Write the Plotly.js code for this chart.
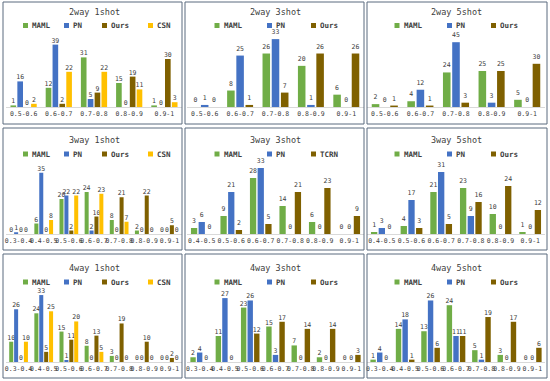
<!DOCTYPE html>
<html>
<head>
<meta charset="utf-8">
<script src="https://cdn.plot.ly/plotly-3.0.1.min.js"></script>
<style>html,body{margin:0;padding:0;background:#fff}#chart{width:550px;height:381px}</style>
</head>
<body>
<div id="chart"></div>
<script>
// ---- Categories ----
const cats5 = ['0.5-0.6', '0.6-0.7', '0.7-0.8', '0.8-0.9', '0.9-1'];
const cats6 = ['0.4-0.5', '0.5-0.6', '0.6-0.7', '0.7-0.8', '0.8-0.9', '0.9-1'];
const cats7 = ['0.3-0.4', '0.4-0.5', '0.5-0.6', '0.6-0.7', '0.7-0.8', '0.8-0.9', '0.9-1'];

// ---- 2way 1shot ----
const w2s1_MAML = [1, 12, 31, 15, 1];
const w2s1_PN   = [16, 39, 5, 0, 0];
const w2s1_Ours = [0, 2, 9, 19, 30];
const w2s1_CSN  = [2, 22, 22, 11, 3];
// ---- 2way 3shot ----
const w2s3_MAML = [0, 8, 26, 20, 6];
const w2s3_PN   = [1, 25, 33, 1, 0];
const w2s3_Ours = [0, 1, 7, 26, 26];
// ---- 2way 5shot ----
const w2s5_MAML = [2, 4, 24, 25, 5];
const w2s5_PN   = [0, 12, 45, 3, 0];
const w2s5_Ours = [1, 1, 3, 25, 30];
// ---- 3way 1shot ----
const w3s1_MAML = [0, 6, 20, 24, 8, 2, 0];
const w3s1_PN   = [1, 35, 22, 2, 0, 0, 0];
const w3s1_Ours = [0, 0, 2, 10, 21, 22, 5];
const w3s1_CSN  = [0, 8, 22, 23, 7, 0, 0];
// ---- 3way 3shot ----
const w3s3_MAML = [3, 9, 28, 14, 6, 0];
const w3s3_PN   = [6, 21, 33, 0, 0, 0];
const w3s3_TCRN = [0, 2, 5, 21, 23, 9];
// ---- 3way 5shot ----
const w3s5_MAML = [1, 4, 21, 23, 10, 1];
const w3s5_PN   = [3, 17, 31, 9, 0, 0];
const w3s5_Ours = [0, 3, 5, 16, 24, 12];
// ---- 4way 1shot ----
const w4s1_MAML = [10, 24, 15, 8, 3, 0, 0];
const w4s1_PN   = [26, 33, 1, 0, 0, 0, 0];
const w4s1_Ours = [0, 5, 11, 13, 19, 10, 2];
const w4s1_CSN  = [10, 25, 20, 5, 0, 0, 0];
// ---- 4way 3shot ----
const w4s3_MAML = [2, 11, 23, 15, 7, 2, 0];
const w4s3_PN   = [4, 27, 26, 3, 0, 0, 0];
const w4s3_Ours = [0, 0, 12, 17, 14, 14, 3];
// ---- 4way 5shot ----
const w4s5_MAML = [1, 14, 13, 24, 5, 3, 0];
const w4s5_PN   = [4, 18, 26, 11, 1, 0, 0];
const w4s5_Ours = [0, 1, 6, 11, 19, 17, 6];

const titles = ['2way 1shot', '2way 3shot', '2way 5shot',
                '3way 1shot', '3way 3shot', '3way 5shot',
                '4way 1shot', '4way 3shot', '4way 5shot'];

const COL = {MAML: '#70AD47', PN: '#4472C4', Ours: '#7F6000', CSN: '#FFC000', TCRN: '#7F6000'};

const panels = [
  {cats: cats5, ymax: 45, series: [['MAML', w2s1_MAML], ['PN', w2s1_PN], ['Ours', w2s1_Ours], ['CSN', w2s1_CSN]]},
  {cats: cats5, ymax: 35, series: [['MAML', w2s3_MAML], ['PN', w2s3_PN], ['Ours', w2s3_Ours]]},
  {cats: cats5, ymax: 50, series: [['MAML', w2s5_MAML], ['PN', w2s5_PN], ['Ours', w2s5_Ours]]},
  {cats: cats7, ymax: 40, series: [['MAML', w3s1_MAML], ['PN', w3s1_PN], ['Ours', w3s1_Ours], ['CSN', w3s1_CSN]]},
  {cats: cats6, ymax: 35, series: [['MAML', w3s3_MAML], ['PN', w3s3_PN], ['TCRN', w3s3_TCRN]]},
  {cats: cats6, ymax: 35, series: [['MAML', w3s5_MAML], ['PN', w3s5_PN], ['Ours', w3s5_Ours]]},
  {cats: cats7, ymax: 35, series: [['MAML', w4s1_MAML], ['PN', w4s1_PN], ['Ours', w4s1_Ours], ['CSN', w4s1_CSN]]},
  {cats: cats7, ymax: 30, series: [['MAML', w4s3_MAML], ['PN', w4s3_PN], ['Ours', w4s3_Ours]]},
  {cats: cats7, ymax: 30, series: [['MAML', w4s5_MAML], ['PN', w4s5_PN], ['Ours', w4s5_Ours]]}
];

// ---- Layout geometry (pixels) ----
const W = 550, H = 381;
const px = v => v / W;
const py = v => 1 - v / H;
const plotX = [[6, 182], [187, 364], [367, 545]];
const plotY = [[35, 107], [164, 234], [291, 362]];
const boxX = [[3, 182], [185, 364], [367, 547]];
const boxY = [[2, 124], [128, 250], [254, 378]];
const titleY = [11.7, 140, 268];
const legY = [25.5, 154, 282];
const legOff4 = [17, 58, 96, 142];
const legOff3 = [27.5, 80, 124];

const data = [];
const layout = {
  width: W, height: H,
  margin: {l: 0, r: 0, t: 0, b: 0},
  paper_bgcolor: '#ffffff', plot_bgcolor: 'rgba(0,0,0,0)',
  barmode: 'group', bargap: 0.22, bargroupgap: 0.18,
  showlegend: false,
  shapes: [], annotations: []
};

panels.forEach((p, i) => {
  const r = Math.floor(i / 3), c = i % 3;
  const k = i === 0 ? '' : String(i + 1);
  const xa = 'xaxis' + k, ya = 'yaxis' + k;
  layout[xa] = {
    domain: [px(plotX[c][0]), px(plotX[c][1])],
    anchor: 'y' + k, type: 'category',
    showline: true, linecolor: '#d9d9d9', linewidth: 1,
    ticks: '', showgrid: false, zeroline: false, tickangle: 0, fixedrange: true,
    tickfont: {family: 'DejaVu Sans Mono', size: 6.5, color: '#404040'}
  };
  layout[ya] = {
    domain: [py(plotY[r][1]), py(plotY[r][0])],
    anchor: 'x' + k, range: [0, p.ymax], visible: false, fixedrange: true
  };
  p.series.forEach(([name, vals]) => {
    data.push({
      type: 'bar', name: name, x: p.cats, y: vals,
      xaxis: 'x' + k, yaxis: 'y' + k,
      marker: {color: COL[name]},
      text: vals.map(String), textposition: 'outside', cliponaxis: false,
      constraintext: 'none',
      textfont: {family: 'DejaVu Sans Mono', size: 6.5, color: '#404040'},
      hoverinfo: 'skip'
    });
  });
  // panel border
  layout.shapes.push({type: 'rect', xref: 'paper', yref: 'paper',
    x0: px(boxX[c][0]), x1: px(boxX[c][1]), y0: py(boxY[r][1]), y1: py(boxY[r][0]),
    line: {color: '#5a6a7e', width: 1}, fillcolor: 'rgba(0,0,0,0)'});
  // title
  layout.annotations.push({xref: 'paper', yref: 'paper',
    x: px((plotX[c][0] + plotX[c][1]) / 2), y: py(titleY[r]),
    xanchor: 'center', yanchor: 'middle', showarrow: false, text: titles[i],
    font: {family: 'DejaVu Sans Mono', size: 8.5, color: '#404040'}});
  // legend
  const offs = p.series.length === 4 ? legOff4 : legOff3;
  p.series.forEach(([name], j) => {
    const x0 = plotX[c][0] + offs[j];
    layout.shapes.push({type: 'rect', xref: 'paper', yref: 'paper',
      x0: px(x0), x1: px(x0 + 5), y0: py(legY[r] + 2.5), y1: py(legY[r] - 2.5),
      line: {width: 0}, fillcolor: COL[name]});
    layout.annotations.push({xref: 'paper', yref: 'paper',
      x: px(x0 + 7), y: py(legY[r]), xanchor: 'left', yanchor: 'middle',
      showarrow: false, text: '<b>' + name + '</b>',
      font: {family: 'DejaVu Sans Mono', size: 7.5, color: '#404040'}});
  });
});

Plotly.newPlot('chart', data, layout, {displayModeBar: false, staticPlot: true});
</script>
</body>
</html>
